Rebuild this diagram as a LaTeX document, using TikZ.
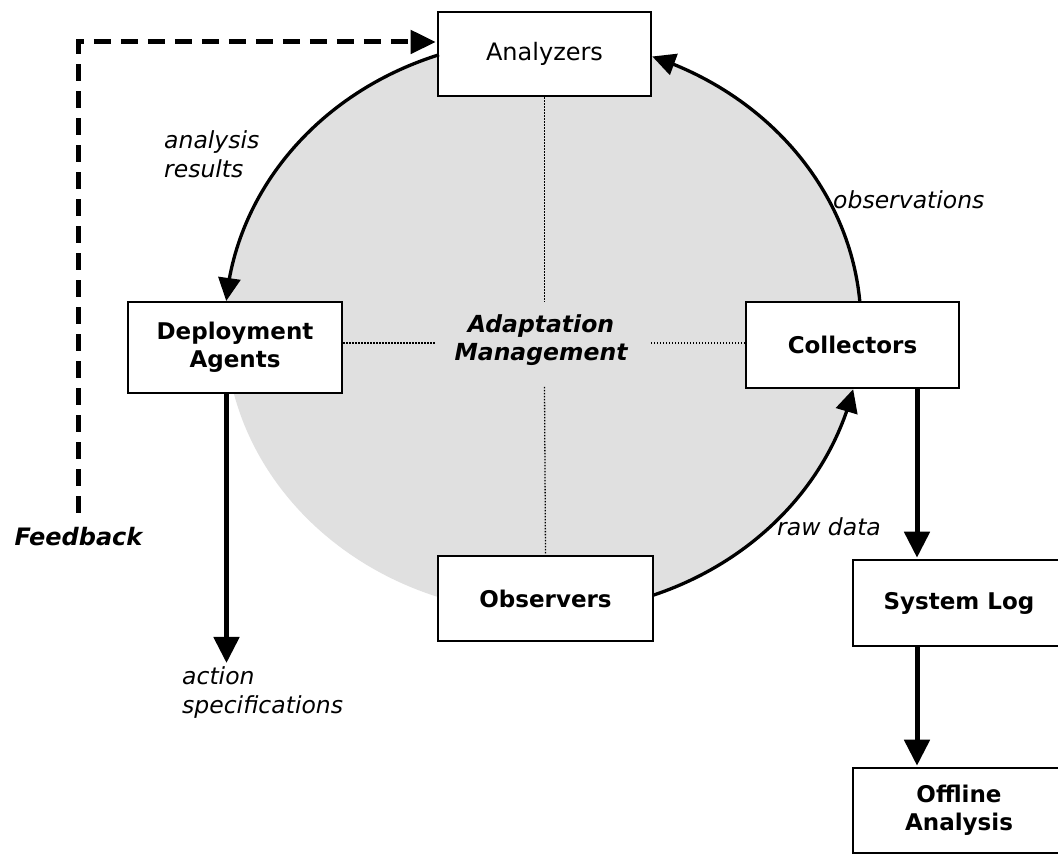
\documentclass[tikz,border=0pt]{standalone}
\usepackage{fontspec}
\setmainfont{DejaVu Sans}
\usetikzlibrary{arrows.meta,bending,calc}
\definecolor{mgmtgray}{RGB}{224,224,224}
\tikzset{
  box/.style={draw, line width=2.6pt, fill=white, minimum width=213pt,
    minimum height=86pt, inner sep=0pt, align=center,
    font=\fontsize{23}{28}\selectfont\bfseries},
  flow/.style={line width=3.3pt, -{Triangle[length=23pt,width=22pt]}},
  bigflow/.style={line width=5pt, -{Triangle[length=26pt,width=25pt]}},
  feedbackline/.style={line width=5pt, dash pattern=on 17pt off 10pt,
    -{Triangle[length=25pt,width=23pt]}},
  guide/.style={line width=1.3pt, dash pattern=on 1.3pt off 1.7pt},
  lbl/.style={font=\fontsize{23.5}{29}\selectfont\itshape, inner sep=0pt, align=left},
}
\begin{document}
\begin{tikzpicture}[x=1pt,y=1pt]
\useasboundingbox (0,0) rectangle (1058,854);
\clip (0,0) rectangle (1058,854);
\fill[white] (0,0) rectangle (1058,854);

% shaded management area
\coordinate (hub) at (543,528);
\fill[mgmtgray] (hub) ellipse [x radius=318, y radius=287];

% centre label and its dotted guides
\node[font=\fontsize{23.5}{28}\selectfont\bfseries\itshape, align=center, inner sep=0pt]
  (mgmt) at (541,514) {Adaptation\\Management};
\coordinate (gN) at (544.5,552);
\coordinate (gS) at (544.5,467);
\coordinate (gW) at (435,511);
\coordinate (gE) at (651,511);

% components
\node[box, font=\fontsize{24}{28}\selectfont, minimum height=84pt] (ana) at (544.5,800) {Analyzers};
\node[box, minimum width=214pt, minimum height=91pt] (dep) at (235,506.5) {Deployment\\Agents};
\node[box] (col) at (852.5,509) {Collectors};
\node[box, minimum width=215pt, minimum height=85pt] (obs) at (545.5,255.5) {Observers};
\node[box, minimum width=212pt] (log) at (959,251) {System Log};
\node[box, minimum width=212pt, minimum height=85pt] (off) at (959,43.5) {Offline\\Analysis};

\draw[guide] (ana.south) -- (gN);
\draw[guide] (gS) -- (obs.north);
\draw[guide] (dep.east |- gW) -- (gW);
\draw[guide] (gE) -- (col.west |- gE);

% cycle around the management area
\path (hub) ++(109.1:318 and 287) coordinate (a1);
\path (hub) ++(4.8:318 and 287) coordinate (a2);
\path (hub) ++(-69.76:318 and 287) coordinate (a3);
\draw[flow] (a1) arc[start angle=109.1, end angle=175, x radius=318, y radius=287];
\draw[flow] (a2) arc[start angle=4.8, end angle=69.9, x radius=318, y radius=287];
\draw[flow] (a3) arc[start angle=-69.76, end angle=-12.73, x radius=318, y radius=287];

% outputs
\coordinate (actx) at (226.5,191);
\coordinate (logx) at (917,0);
\draw[bigflow] (dep.south -| actx) -- (actx);
\draw[bigflow] (col.south -| logx) -- ([yshift=1pt]log.north -| logx);
\draw[bigflow] (log.south -| logx) -- ([yshift=1pt]off.north -| logx);

% feedback
\node[font=\fontsize{24}{28}\selectfont\bfseries\itshape, inner sep=0pt] (fb) at (78.5,317) {Feedback};
\draw[feedbackline] ([yshift=15pt]fb.north) |- ([xshift=-1pt,yshift=12pt]ana.west);

% edge labels
\node[lbl, anchor=north west] (lres) at (164,724) {analysis\\results};
\node[lbl, anchor=west] (lobs) at (833,654) {observations};
\node[lbl, anchor=west] (lraw) at (777,327) {raw data};
\node[lbl, anchor=north west] (lact) at (182,188) {action\\specifications};
\end{tikzpicture}
\end{document}
